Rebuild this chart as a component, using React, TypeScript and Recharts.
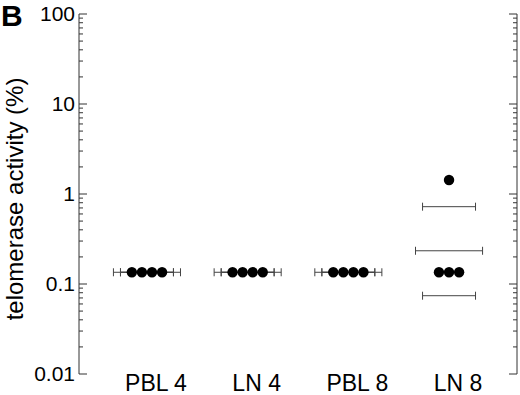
import { ScatterChart, Scatter, XAxis, YAxis, ErrorBar } from "recharts";

const groups = ["PBL 4", "LN 4", "PBL 8", "LN 8"];

// telomerase activity (%) per sample
const pbl4 = [0.135, 0.135, 0.135, 0.135];
const ln4 = [0.135, 0.135, 0.135, 0.135];
const pbl8 = [0.135, 0.135, 0.135, 0.135];
const ln8 = [1.43, 0.135, 0.135, 0.135];

// mean and mean ± SD bars
const means = [0.135, 0.135, 0.135, 0.234];
const sdHigh = [0.135, 0.135, 0.135, 0.723];
const sdLow = [0.135, 0.135, 0.135, 0.0741];

const majorTicks = [0.01, 0.1, 1, 10, 100];
const majorLabels = ["0.01", "0.1", "1", "10", "100"];
const minorSteps = [2, 3, 4, 5, 6, 7, 8, 9];

const FONT = "'Liberation Sans', Arial, Helvetica, sans-serif";
const AXIS = "#333";
const MEAN_HALF = 0.333;
const SD_HALF = 0.263;
const DOT_GAP = 0.1;

const allTicks = [
  ...majorTicks,
  ...majorTicks.slice(0, 4).flatMap((d) => minorSteps.map((s) => s * d)),
];

// spread equal values side by side inside each group
const samples = [pbl4, ln4, pbl8, ln8];
const points = samples.flatMap((vals, g) => {
  const out: { x: number; y: number }[] = [];
  const seen = new Map<number, number[]>();
  vals.forEach((v, i) => {
    if (!seen.has(v)) seen.set(v, []);
    seen.get(v)!.push(i);
  });
  seen.forEach((idxs, v) => {
    idxs.forEach((_, k) => {
      out.push({ x: g + (k - (idxs.length - 1) / 2) * DOT_GAP, y: v });
    });
  });
  return out;
});

const meanData = means.map((m, i) => ({ x: i, y: m, ex: MEAN_HALF }));
const sdData = [
  ...sdHigh.map((v, i) => ({ x: i, y: v, ex: SD_HALF })),
  ...sdLow.map((v, i) => ({ x: i, y: v, ex: SD_HALF })),
];

const LeftTick = (props: any) => {
  const { x, y, payload } = props;
  const idx = majorTicks.indexOf(payload.value);
  const major = idx >= 0;
  return (
    <g>
      <line x1={x} x2={x + (major ? 8 : 4)} y1={y} y2={y} stroke={AXIS} strokeWidth={1} />
      {major && (
        <text x={x - 4} y={y + 7} textAnchor="end" fontSize={21} fontFamily={FONT} fill="#000">
          {majorLabels[idx]}
        </text>
      )}
    </g>
  );
};

const RightTick = (props: any) => {
  const { x, y, payload } = props;
  const major = majorTicks.indexOf(payload.value) >= 0;
  return <line x1={x} x2={x - (major ? 8 : 4)} y1={y} y2={y} stroke={AXIS} strokeWidth={1} />;
};

const GroupTick = (props: any) => {
  const { x, y, payload } = props;
  return (
    <text x={x + 9} y={y + 17} textAnchor="middle" fontSize={23} fontFamily={FONT} fill="#000">
      {groups[payload.value]}
    </text>
  );
};

const YLabel = (props: any) => {
  const { viewBox } = props;
  const cx = 23;
  const cy = viewBox.y + viewBox.height / 2 + 5;
  return (
    <text
      x={cx}
      y={cy}
      transform={`rotate(-90, ${cx}, ${cy})`}
      textAnchor="middle"
      fontSize={24}
      fontFamily={FONT}
      fill="#000"
    >
      telomerase activity (%)
    </text>
  );
};

const noShape = () => <g />;

export default function App() {
  return (
    <div style={{ position: "absolute", left: 0, top: 0, width: 520, height: 395, background: "#fff" }}>
      <div
        style={{
          position: "absolute",
          left: 1,
          top: 1,
          fontFamily: FONT,
          fontWeight: "bold",
          fontSize: 30,
          lineHeight: 1,
          color: "#000",
        }}
      >
        B
      </div>
      <ScatterChart width={520} height={395} margin={{ top: 14, right: 0, bottom: 0, left: 0 }}>
        <XAxis
          type="number"
          dataKey="x"
          domain={[-0.675, 3.675]}
          allowDataOverflow
          ticks={[0, 1, 2, 3]}
          axisLine={false}
          tickLine={false}
          tickSize={0}
          tickMargin={0}
          height={21}
          tick={<GroupTick />}
        />
        <YAxis
          type="number"
          dataKey="y"
          scale="log"
          domain={[0.01, 100]}
          allowDataOverflow
          ticks={allTicks}
          interval={0}
          width={79}
          axisLine={{ stroke: AXIS, strokeWidth: 1 }}
          tickLine={false}
          tickSize={0}
          tickMargin={0}
          tick={<LeftTick />}
          label={<YLabel />}
        />
        <YAxis
          yAxisId="right"
          orientation="right"
          type="number"
          scale="log"
          domain={[0.01, 100]}
          allowDataOverflow
          ticks={allTicks}
          interval={0}
          width={3}
          axisLine={{ stroke: AXIS, strokeWidth: 1 }}
          tickLine={false}
          tickSize={0}
          tickMargin={0}
          tick={<RightTick />}
        />
        <Scatter data={meanData} shape={noShape} isAnimationActive={false}>
          <ErrorBar dataKey="ex" direction="x" width={4} stroke="#444" strokeWidth={1} isAnimationActive={false} />
        </Scatter>
        <Scatter data={sdData} shape={noShape} isAnimationActive={false}>
          <ErrorBar dataKey="ex" direction="x" width={4} stroke="#444" strokeWidth={1} isAnimationActive={false} />
        </Scatter>
        <Scatter
          data={points}
          fill="#000"
          isAnimationActive={false}
          shape={(p: any) => <circle cx={p.cx} cy={p.cy} r={5.2} fill="#000" />}
        />
      </ScatterChart>
    </div>
  );
}
